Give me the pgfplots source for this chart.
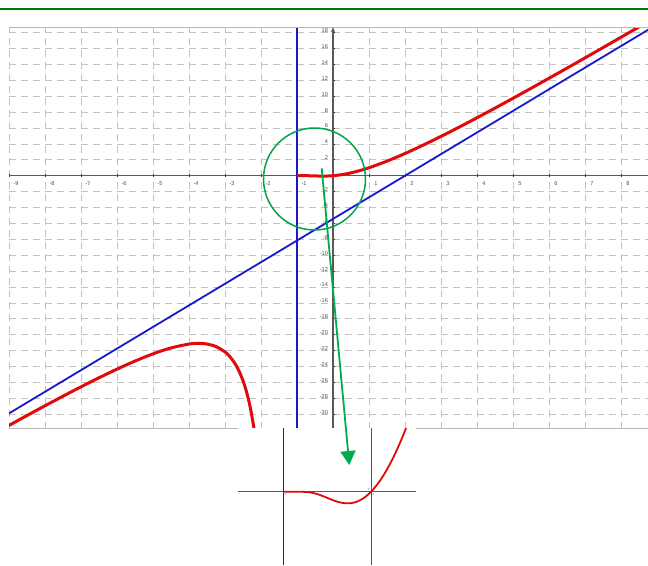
\documentclass[border=0pt]{standalone}
\usepackage{fontspec}
\setmainfont{Liberation Sans}
\usepackage{pgfplots}
\pgfplotsset{compat=1.18}
\usetikzlibrary{arrows.meta}

\definecolor{redc}{RGB}{225,10,10}
\definecolor{bluec}{RGB}{25,25,200}
\definecolor{circg}{RGB}{0,165,75}
\definecolor{arrg}{RGB}{0,170,80}
\definecolor{topg}{RGB}{0,120,0}
\definecolor{gridc}{RGB}{195,195,195}

\begin{document}
\begin{tikzpicture}
\useasboundingbox (0,0) rectangle (648pt,565pt);
\draw[topg, line width=2pt] (0,556pt) -- (648pt,556pt);

% main graph
\begin{axis}[
  name=main,
  at={(9pt,136pt)}, anchor=south west,
  x=36pt, y=7.95pt,
  xmin=-9.0, xmax=8.76, ymin=-31.86, ymax=18.7,
  axis lines=middle,
  axis line style={line width=1.2pt, black!65},
  x axis line style={-},
  y axis line style={-{Stealth[length=5pt,width=4pt]}},
  xtick={-9,...,8},
  ytick={-30,-28,...,-2,2,4,...,18},
  grid=major,
  major grid style={gridc, line width=0.7pt, dash pattern=on 7pt off 5pt},
  tick style={black!80, line width=0.8pt},
  major tick length=3pt,
  tick align=center,
  tick label style={font=\fontsize{5.6}{6}\selectfont, text=black!70},
  xticklabel style={xshift=7pt, yshift=-1pt},
  yticklabel style={yshift=2pt},
  /pgf/number format/assume math mode=true,
  clip=true,
]
% vertical asymptote x = -1
\addplot[bluec, line width=2.2pt] coordinates {(-1,-33) (-1,20)};
% oblique asymptote
\addplot[bluec, line width=1.8pt] coordinates {(-9.1,-30.17) (8.8,18.48)};
% right branch
\addplot[redc, line width=3pt, smooth] coordinates {
 (-1,0) (-0.9,0) (-0.8,-0.0001) (-0.7,-0.0024) (-0.6,-0.011) (-0.5,-0.0249)
 (-0.4,-0.0388) (-0.3,-0.0468) (-0.2,-0.0446) (-0.1,-0.0295) (0,0)
 (0.25,0.137) (0.5,0.358) (0.75,0.650) (1,1) (1.5,1.832) (2,2.791)
 (2.5,3.838) (3,4.946) (3.5,6.100) (4,7.289) (4.5,8.503) (5,9.739)
 (5.5,10.991) (6,12.256) (6.5,13.533) (7,14.819) (7.5,16.112) (8,17.413)
 (8.5,18.719) (9,20.030)
};
% left branch
\addplot[redc, line width=3pt, smooth] coordinates {
 (-9.1,-31.663) (-9,-31.41) (-8.5,-30.166) (-8,-28.938) (-7.5,-27.733)
 (-7,-26.556) (-6.5,-25.418) (-6,-24.331) (-5.5,-23.317) (-5,-22.408)
 (-4.5,-21.661) (-4,-21.178) (-3.75,-21.095) (-3.5,-21.174) (-3.25,-21.491)
 (-3,-22.167) (-2.9,-22.588) (-2.8,-23.121) (-2.7,-23.802) (-2.6,-24.668)
 (-2.5,-25.781) (-2.45,-26.457) (-2.4,-27.223) (-2.35,-28.103) (-2.3,-29.118)
 (-2.25,-30.293) (-2.2,-31.662) (-2.15,-33.268)
};
\end{axis}
\draw[gridc!80!gray, line width=1pt] (main.north west) -- (main.north east);
\draw[gridc!80!gray, line width=1pt] (main.south west) -- (main.south east);

% zoomed inset
\fill[white] (238pt,0pt) rectangle (416pt,137pt);
\begin{axis}[
  at={(238pt,0pt)}, anchor=south west,
  x=87.7pt, y=245pt,
  xmin=-1.517, xmax=0.513, ymin=-0.299, ymax=0.26,
  hide axis, clip=true,
]
\draw[black!65, line width=1pt] (axis cs:-1.6,0) -- (axis cs:0.6,0);
\draw[black!65, line width=1pt] (axis cs:0,-0.3) -- (axis cs:0,0.3);
\addplot[bluec, line width=1.2pt] coordinates {(-1,-0.3) (-1,0.3)};
\addplot[redc, line width=1.8pt, smooth] coordinates {
 (-1,0) (-0.9,0) (-0.8,-0.0001) (-0.75,-0.00068) (-0.7,-0.00242)
 (-0.65,-0.00583) (-0.6,-0.01099) (-0.55,-0.01756) (-0.5,-0.02489)
 (-0.45,-0.03223) (-0.4,-0.03879) (-0.35,-0.04385) (-0.3,-0.04684)
 (-0.25,-0.04722) (-0.2,-0.04463) (-0.15,-0.03877) (-0.1,-0.02946)
 (-0.05,-0.01656) (0,0) (0.05,0.02023) (0.1,0.04412) (0.15,0.07163)
 (0.2,0.10268) (0.25,0.1372) (0.3,0.17509) (0.35,0.21625) (0.4,0.2606)
 (0.45,0.30795) (0.5,0.3583)
};
\node[font=\fontsize{3}{3}\selectfont, text=black!60, anchor=north west, inner sep=0.5pt] at (axis cs:-1,-0.005) {-1};
\node[font=\fontsize{3}{3}\selectfont, text=black!60, anchor=north west, inner sep=0.5pt] at (axis cs:0.01,-0.005) {0};
\node[font=\fontsize{3}{3}\selectfont, text=black!60, anchor=south east, inner sep=0.5pt] at (axis cs:-0.01,0.002) {0};
\end{axis}

% annotation: circle and arrow
\draw[circg, line width=1.5pt] (314.5pt,386pt) circle (51pt);
\draw[arrg, line width=1.8pt, -{Triangle[width=15pt,length=14pt]}] (321.7pt,396.7pt) -- (349.3pt,100pt);
\end{tikzpicture}
\end{document}
